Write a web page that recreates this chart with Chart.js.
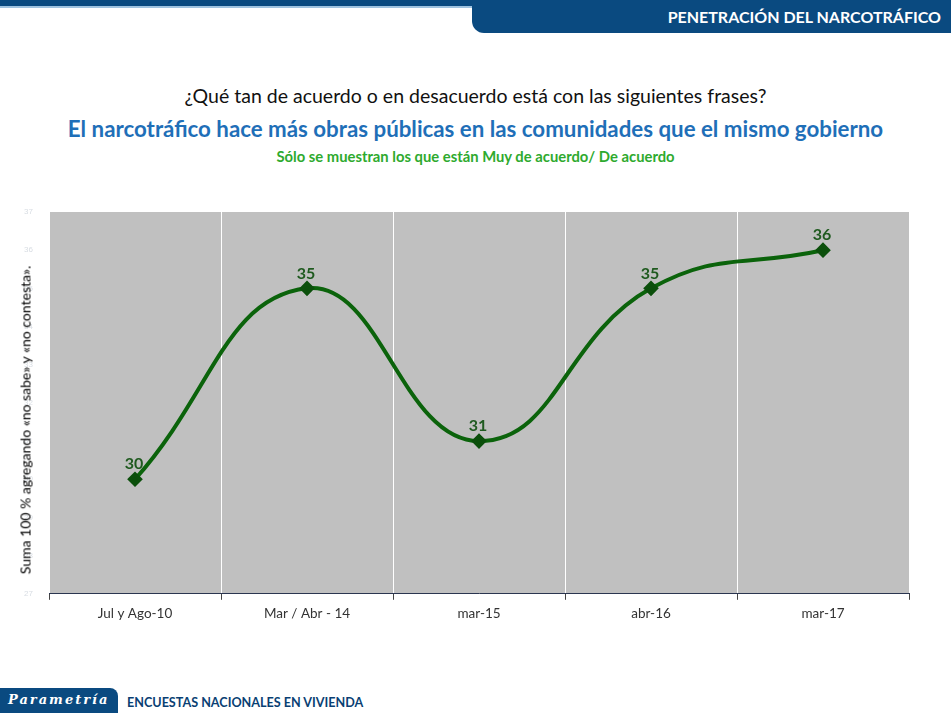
<!DOCTYPE html>
<html>
<head>
<meta charset="utf-8">
<script src="https://cdn.jsdelivr.net/npm/chart.js@4"></script>
<style>
  body { margin: 0; width: 951px; height: 713px; overflow: hidden; background: #fff; font-family: Lato, "Open Sans", sans-serif; position: relative; }
  .topbar { position: absolute; left: 0; top: 0; width: 951px; height: 6px; background: #0a4a80; border-bottom: 2px solid #9fc3e0; }
  .tab { position: absolute; left: 472px; top: 0; width: 479px; height: 33px; background: #0a4a80; border-bottom-left-radius: 12px; color: #fff; font-weight: bold; font-size: 16px; text-align: right; box-sizing: border-box; padding: 7px 10px 0 0; }
  .q { position: absolute; top: 84px; width: 951px; text-align: center; font-size: 19.5px; color: #111; left: 0; }
  .t { position: absolute; top: 115px; width: 951px; text-align: center; font-size: 22.3px; font-weight: bold; color: #1f6fb8; left: 0; }
  .s { position: absolute; top: 147px; width: 951px; text-align: center; font-size: 14.8px; font-weight: bold; color: #2eaa2e; left: 0; }
  .ytitle { position: absolute; left: 25px; top: 420px; transform: translate(-50%, -50%) rotate(-90deg); white-space: nowrap; font-size: 14px; color: #000; }
  .foot { position: absolute; left: 0; top: 688px; width: 118px; height: 25px; background: #0a4a80; border-top-right-radius: 8px; color: #fff; font-style: italic; font-weight: bold; font-size: 13px; letter-spacing: 2px; box-sizing: border-box; padding: 4px 0 0 8px; font-family: "DejaVu Serif", serif; }
  .foottxt { position: absolute; left: 127px; top: 695px; font-size: 12.6px; font-weight: bold; color: #0a3f73; }
  .wrap { position: absolute; left: 0; top: 190px; width: 951px; height: 450px; }
</style>
</head>
<body>
<div class="topbar"></div>
<div class="tab">PENETRACIÓN DEL NARCOTRÁFICO</div>
<div class="q">¿Qué tan de acuerdo o en desacuerdo está con las siguientes frases?</div>
<div class="t">El narcotráfico hace más obras públicas en las comunidades que el mismo gobierno</div>
<div class="s">Sólo se muestran los que están Muy de acuerdo/ De acuerdo</div>
<div class="wrap"><canvas id="myChart"></canvas></div>
<div class="ytitle">Suma 100 % agregando «no sabe» y «no contesta».</div>
<div class="foot">Parametría</div>
<div class="foottxt">ENCUESTAS NACIONALES EN VIVIENDA</div>
<script>
const periods = ['Jul y Ago-10', 'Mar / Abr - 14', 'mar-15', 'abr-16', 'mar-17'];
const agreeShare = [30, 35, 31, 35, 36];
const yTicks = [27, 28, 29, 30, 31, 32, 33, 34, 35, 36, 37];

// gray plot background
const plotBg = {
  id: 'plotBg',
  beforeDraw(chart) {
    const { ctx, chartArea: a } = chart;
    ctx.save();
    ctx.fillStyle = '#c0c0c0';
    ctx.fillRect(a.left, a.top, a.right - a.left, a.bottom - a.top);
    ctx.restore();
  }
};

// value labels above the points
const valueLabels = {
  id: 'valueLabels',
  afterDatasetsDraw(chart) {
    const ctx = chart.ctx;
    const meta = chart.getDatasetMeta(0);
    ctx.save();
    ctx.font = 'bold 16px Lato, sans-serif';
    ctx.fillStyle = '#1f5a1f';
    ctx.textAlign = 'center';
    ctx.textBaseline = 'bottom';
    meta.data.forEach((pt, i) => {
      ctx.fillText(agreeShare[i], pt.x - 1, pt.y - 7);
    });
    ctx.restore();
  }
};

const ctx = document.getElementById('myChart').getContext('2d');
const chart = new Chart(ctx, {
  type: 'line',
  data: {
    labels: periods,
    datasets: [{
      data: agreeShare,
      borderColor: '#0b630b',
      borderWidth: 4,
      tension: 0.45,
      pointStyle: 'rectRot',
      pointRadius: 5,
      pointBackgroundColor: '#0b4f0b',
      pointBorderColor: '#0b4f0b'
    }]
  },
  options: {
    responsive: true,
    maintainAspectRatio: false,
    animation: false,
    layout: { padding: { top: 22, right: 42, left: 16, bottom: 12 } },
    plugins: {
      legend: { display: false },
      tooltip: { enabled: false }
    },
    scales: {
      x: {
        offset: true,
        grid: { offset: true, color: '#ffffff', lineWidth: 1, tickColor: '#444', tickLength: 6 },
        border: { display: true, color: '#2a3550', width: 1 },
        ticks: { color: '#333', font: { size: 13.5, family: 'Lato, sans-serif' }, padding: 6 }
      },
      y: {
        min: 27,
        max: 37,
        afterBuildTicks(axis) { axis.ticks = yTicks.map(v => ({ value: v })); },
        afterFit(axis) { axis.width = 33; },
        grid: { display: false },
        border: { display: false },
        ticks: { color: '#d8dde3', font: { size: 8 }, padding: 8 }
      }
    }
  },
  plugins: [plotBg, valueLabels]
});
</script>
</body>
</html>
